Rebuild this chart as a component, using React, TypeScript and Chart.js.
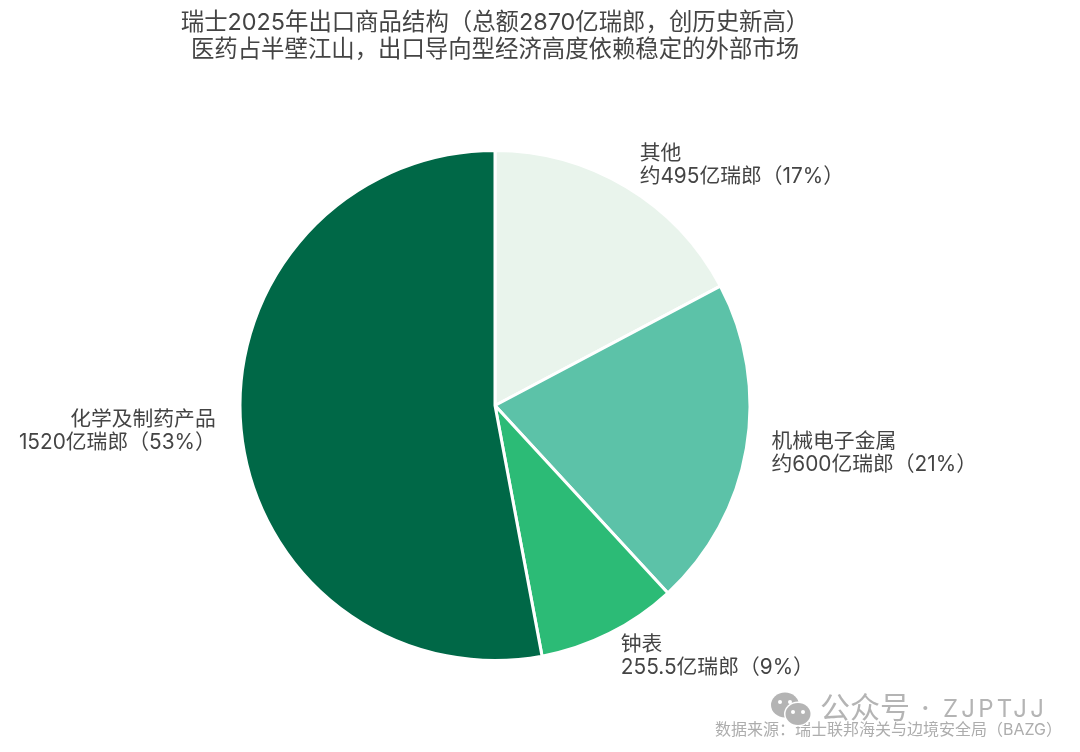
import React, { useEffect, useRef } from "react";
import { Chart, registerables } from "chart.js";

Chart.register(...registerables);

const categories = ["其他", "机械电子金属", "钟表", "化学及制药产品"];
const values = [495, 600, 255.5, 1520];
const valueLabels = ["约495亿瑞郎（17%）", "约600亿瑞郎（21%）", "255.5亿瑞郎（9%）", "1520亿瑞郎（53%）"];
const colors = ["#E9F4EC", "#5CC2A8", "#2CBB76", "#006847"];
const titleLines = ["瑞士2025年出口商品结构（总额2870亿瑞郎，创历史新高）", "医药占半壁江山，出口导向型经济高度依赖稳定的外部市场"];
const sourceText = "数据来源：瑞士联邦海关与边境安全局（BAZG）";
const watermarkCn = "公众号";
const watermarkDot = "·";
const watermarkEn = "ZJPTJJ";

const FONT = 'Inter, "Noto Sans CJK SC", sans-serif';

const labelsPlugin = {
  id: "sliceLabels",
  afterDatasetsDraw(chart: any) {
    const { ctx } = chart;
    const meta = chart.getDatasetMeta(0);
    ctx.save();
    ctx.font = `20.8px ${FONT}`;
    ctx.fillStyle = "#444444";
    ctx.textBaseline = "middle";
    meta.data.forEach((arc: any, i: number) => {
      const p = arc.getProps(["x", "y", "startAngle", "endAngle", "outerRadius"], true);
      const mid = (p.startAngle + p.endAngle) / 2;
      const lx = p.x + Math.cos(mid) * p.outerRadius * 1.1;
      const ly = p.y + Math.sin(mid) * p.outerRadius * 1.1;
      ctx.textAlign = Math.cos(mid) >= 0 ? "left" : "right";
      ctx.fillText(categories[i], lx, ly - 11.5);
      ctx.fillText(valueLabels[i], lx, ly + 11.5);
    });
    ctx.restore();
  },
};

const footerPlugin = {
  id: "footerMarks",
  afterDraw(chart: any) {
    const { ctx } = chart;
    ctx.save();
    ctx.textBaseline = "middle";
    ctx.textAlign = "left";
    ctx.fillStyle = "#ADADAD";
    ctx.font = `16px ${FONT}`;
    ctx.fillText(sourceText, 715, 730);
    // watermark icon: two speech bubbles
    const gray = "#B4B4B4";
    ctx.fillStyle = gray;
    ctx.beginPath();
    ctx.ellipse(785, 705, 14, 12.5, 0, 0, Math.PI * 2);
    ctx.fill();
    ctx.fillStyle = "#FFFFFF";
    ctx.beginPath();
    ctx.ellipse(798, 714, 14, 12.5, 0, 0, Math.PI * 2);
    ctx.fill();
    ctx.fillStyle = gray;
    ctx.beginPath();
    ctx.ellipse(798, 714, 12.5, 11, 0, 0, Math.PI * 2);
    ctx.fill();
    ctx.fillStyle = "#FFFFFF";
    [[780, 702], [790, 702], [793, 712], [803, 712]].forEach(([x, y]) => {
      ctx.beginPath();
      ctx.arc(x, y, 2, 0, Math.PI * 2);
      ctx.fill();
    });
    ctx.fillStyle = gray;
    ctx.font = `30px ${FONT}`;
    ctx.fillText(watermarkCn, 820, 709);
    ctx.fillText(watermarkDot, 921, 709);
    ctx.font = `24px ${FONT}`;
    (ctx as any).letterSpacing = "3.2px";
    ctx.fillText(watermarkEn, 943, 710);
    ctx.restore();
  },
};

export default function App() {
  const ref = useRef<HTMLCanvasElement>(null);
  useEffect(() => {
    const chart = new Chart(ref.current!, {
      type: "pie",
      data: {
        labels: categories,
        datasets: [{ data: values, backgroundColor: colors, borderColor: "#FFFFFF", borderWidth: 3 }],
      },
      options: {
        animation: false,
        responsive: false,
        devicePixelRatio: 1,
        layout: { padding: { right: 90, bottom: 90 } },
        plugins: {
          legend: { display: false },
          tooltip: { enabled: false },
          title: {
            display: true,
            text: titleLines,
            color: "#444444",
            font: { family: FONT, size: 23.4, weight: "normal", lineHeight: 1.154 },
            padding: { top: 9, bottom: 86 },
          },
        },
      },
      plugins: [labelsPlugin, footerPlugin],
    } as any);
    return () => chart.destroy();
  }, []);
  return (
    <div style={{ position: "absolute", left: 0, top: 0, width: 1080, height: 752, background: "#fff" }}>
      <canvas ref={ref} width={1080} height={752} style={{ display: "block" }} />
    </div>
  );
}
